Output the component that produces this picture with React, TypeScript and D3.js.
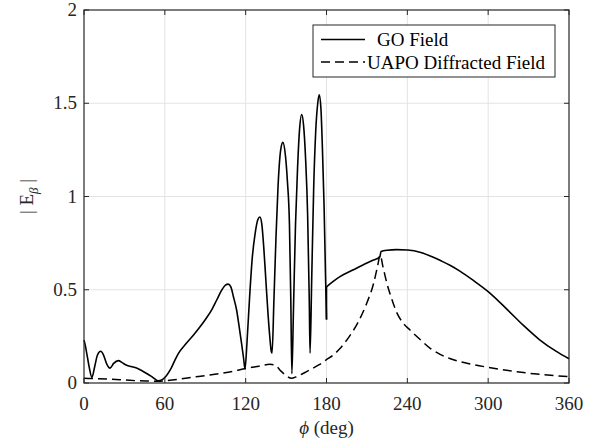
import React from "react";
import * as d3 from "d3";

// GO field, segment before the discontinuity at 180 deg
const goPhiA = [0, 1, 2.5, 4, 5.9, 8, 10, 12.4, 14.5, 17, 19.3, 22, 25.5, 28.5, 31.7, 35, 39, 43, 47.5, 51, 55, 58, 61, 64, 67, 70, 75, 81, 86, 91, 95, 98.5, 102, 105, 107, 109, 111, 113.3, 115, 117, 118.5, 119.5,
  121, 123, 125, 127, 129, 130.6, 132, 133.5, 135, 136.5, 138, 139, 139.6,
  141, 142.5, 144, 146, 147.6, 149.5, 151, 152.5, 153.5, 154.3,
  155.5, 157, 158.5, 160, 161.6, 163, 164.5, 166, 167.2, 167.8,
  169, 170.5, 172, 173.5, 174.6, 175.8, 177, 178.2, 179.2, 180];
const goValA = [0.23, 0.2, 0.14, 0.08, 0.03, 0.09, 0.15, 0.17, 0.15, 0.1, 0.08, 0.105, 0.12, 0.108, 0.095, 0.088, 0.08, 0.066, 0.047, 0.03, 0.012, 0.018, 0.038, 0.07, 0.115, 0.158, 0.205, 0.255, 0.3, 0.35, 0.395, 0.445, 0.495, 0.525, 0.53, 0.515, 0.46, 0.39, 0.31, 0.21, 0.13, 0.075,
  0.22, 0.47, 0.68, 0.8, 0.875, 0.89, 0.85, 0.72, 0.55, 0.38, 0.24, 0.17, 0.16,
  0.45, 0.78, 1.05, 1.25, 1.29, 1.22, 1.08, 0.85, 0.45, 0.05,
  0.4, 0.85, 1.15, 1.36, 1.44, 1.38, 1.2, 0.9, 0.45, 0.16,
  0.55, 1.05, 1.35, 1.5, 1.545, 1.48, 1.25, 0.95, 0.6, 0.34];

// GO field, segment after 180 deg
const goPhiB = [180, 185, 190, 200, 210, 215, 219.5, 220.5, 225, 232, 240, 250, 258, 265, 272, 279, 289, 300, 314, 326, 338, 350, 360];
const goValB = [0.516, 0.545, 0.57, 0.607, 0.643, 0.66, 0.675, 0.705, 0.712, 0.715, 0.713, 0.7, 0.678, 0.655, 0.63, 0.6, 0.55, 0.49, 0.395, 0.31, 0.233, 0.172, 0.13];

// UAPO diffracted field
const uaPhi = [0, 10, 20, 30, 40, 50, 55, 60, 70, 80, 90, 100, 110, 120, 130, 138, 142, 146, 150, 154, 158, 165, 170, 175, 180, 185, 190, 197, 203, 210, 215, 218, 219.8, 222, 225, 228, 232, 237, 242, 250, 257, 264, 272, 285, 300, 320, 340, 360];
const uaVal = [0.025, 0.023, 0.02, 0.016, 0.012, 0.01, 0.009, 0.012, 0.02, 0.03, 0.04, 0.05, 0.062, 0.078, 0.09, 0.1, 0.095, 0.065, 0.04, 0.025, 0.035, 0.06, 0.08, 0.1, 0.125, 0.15, 0.185, 0.25, 0.32, 0.43, 0.535, 0.63, 0.686, 0.62, 0.53, 0.46, 0.38, 0.32, 0.284, 0.23, 0.186, 0.155, 0.13, 0.105, 0.084, 0.062, 0.045, 0.034];

const xTicks = [0, 60, 120, 180, 240, 300, 360];
const yTicks = [0, 0.5, 1, 1.5, 2];
const legendLabels = ["GO Field", "UAPO Diffracted Field"];

export default function App() {
  const W = 603, H = 447;
  const left = 84, right = 569, top = 10, bottom = 383;
  const x = d3.scaleLinear().domain([0, 360]).range([left, right]);
  const y = d3.scaleLinear().domain([0, 2]).range([bottom, top]);
  const line = d3
    .line<[number, number]>()
    .x((d) => x(d[0]))
    .y((d) => y(d[1]))
    .curve(d3.curveMonotoneX);
  const pathA = line(goPhiA.map((p, i) => [p, goValA[i]]))!;
  const pathB = line(goPhiB.map((p, i) => [p, goValB[i]]))!;
  const pathJump = `M${x(180)},${y(goValA[goValA.length - 1])}L${x(180)},${y(goValB[0])}`;
  const pathU = line(uaPhi.map((p, i) => [p, uaVal[i]]))!;
  const font = "'Liberation Serif', 'Times New Roman', serif";
  const axisColor = "#262626";
  const tick = 5;

  return (
    <svg width={W} height={H} style={{ position: "absolute", left: 0, top: 0, background: "#fff" }} fontFamily={font}>
      <rect x={0} y={0} width={W} height={H} fill="#fff" />
      {/* grid */}
      {xTicks.slice(1, -1).map((t) => (
        <line key={"gx" + t} x1={x(t)} x2={x(t)} y1={top} y2={bottom} stroke="#e3e3e3" strokeWidth={1} />
      ))}
      {yTicks.slice(1, -1).map((t) => (
        <line key={"gy" + t} x1={left} x2={right} y1={y(t)} y2={y(t)} stroke="#e3e3e3" strokeWidth={1} />
      ))}
      {/* data */}
      <path d={pathU} fill="none" stroke="#000" strokeWidth={1.5} strokeDasharray="9,5" />
      <path d={pathA} fill="none" stroke="#000" strokeWidth={1.6} strokeLinejoin="round" />
      <path d={pathJump} fill="none" stroke="#000" strokeWidth={1.6} />
      <path d={pathB} fill="none" stroke="#000" strokeWidth={1.6} strokeLinejoin="round" />
      {/* axes box */}
      <rect x={left} y={top} width={right - left} height={bottom - top} fill="none" stroke={axisColor} strokeWidth={1.2} />
      {xTicks.map((t) => (
        <g key={"xt" + t}>
          <line x1={x(t)} x2={x(t)} y1={bottom} y2={bottom - tick} stroke={axisColor} />
          <line x1={x(t)} x2={x(t)} y1={top} y2={top + tick} stroke={axisColor} />
          <text x={x(t)} y={410} textAnchor="middle" fontSize={19} fill="#262626">
            {t}
          </text>
        </g>
      ))}
      {yTicks.map((t) => (
        <g key={"yt" + t}>
          <line x1={left} x2={left + tick} y1={y(t)} y2={y(t)} stroke={axisColor} />
          <line x1={right} x2={right - tick} y1={y(t)} y2={y(t)} stroke={axisColor} />
          <text x={77} y={y(t) + 6} textAnchor="end" fontSize={19} fill="#262626">
            {t}
          </text>
        </g>
      ))}
      {/* axis labels */}
      <text x={(left + right) / 2} y={434} textAnchor="middle" fontSize={19} fill="#262626">
        <tspan fontStyle="italic">ϕ</tspan> (deg)
      </text>
      <text transform={`translate(33,${(top + bottom) / 2}) rotate(-90)`} textAnchor="middle" fontSize={19} fill="#262626">
        | E<tspan fontSize={13} fontStyle="italic" dy={5}>β</tspan>
        <tspan dy={-5}> |</tspan>
      </text>
      {/* legend */}
      <rect x={313} y={25} width={242} height={52} fill="#fff" stroke={axisColor} strokeWidth={1} />
      <line x1={321} x2={365} y1={39.5} y2={39.5} stroke="#000" strokeWidth={1.5} />
      <text x={377} y={46} fontSize={19} fill="#000">{legendLabels[0]}</text>
      <line x1={321} x2={365} y1={62} y2={62} stroke="#000" strokeWidth={1.5} strokeDasharray="9,5" />
      <text x={367} y={68.5} fontSize={19} fill="#000">{legendLabels[1]}</text>
    </svg>
  );
}
